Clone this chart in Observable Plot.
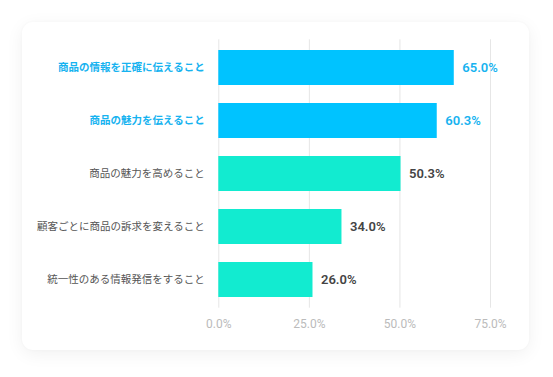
<!DOCTYPE html>
<html>
<head>
<meta charset="utf-8">
<script src="https://cdn.jsdelivr.net/npm/d3@7"></script>
<script src="https://cdn.jsdelivr.net/npm/@observablehq/plot@0.6"></script>
<style>
  html, body { margin: 0; padding: 0; background: #ffffff; }
  body { width: 553px; height: 377px; position: relative; overflow: hidden; }
  #card {
    position: absolute; left: 22px; top: 22px; width: 507px; height: 328px;
    background: #ffffff; border-radius: 11px;
    box-shadow: 0 4px 18px rgba(0,0,0,0.06), 0 0 3px rgba(0,0,0,0.03);
  }
  #chart { position: absolute; left: 0; top: 0; }
</style>
</head>
<body>
<div id="card"></div>
<div id="chart"></div>
<script>
const categories = [
  "商品の情報を正確に伝えること",
  "商品の魅力を伝えること",
  "商品の魅力を高めること",
  "顧客ごとに商品の訴求を変えること",
  "統一性のある情報発信をすること"
];
const values = [65.0, 60.3, 50.3, 34.0, 26.0];
const highlighted = [true, true, false, false, false];
const xTicks = [0, 25, 50, 75];

const data = categories.map((c, i) => ({cat: c, value: values[i], hi: highlighted[i]}));
const hiData = data.filter(d => d.hi);
const loData = data.filter(d => !d.hi);

const BLUE_BAR = "#00c3ff";
const TEAL_BAR = "#12ebd0";
const BLUE_TEXT = "#17b3f0";
const GRAY_TEXT = "#555555";
const DARK_TEXT = "#444444";

const catFont = "'Noto Sans CJK JP', sans-serif";
const numFont = "Roboto, sans-serif";
const fmt = d => d.toFixed(1) + "%";

const chart = Plot.plot({
  width: 553,
  height: 377,
  marginLeft: 218.3,
  marginRight: 63,
  marginTop: 39.3,
  marginBottom: 69.3,
  style: {background: "transparent", fontFamily: "Roboto, 'Noto Sans CJK JP', sans-serif"},
  x: {domain: [0, 75], ticks: xTicks, tickFormat: fmt},
  y: {domain: categories, paddingInner: 0.335, paddingOuter: 0.1675, axis: null},
  marks: [
    Plot.gridX(xTicks, {stroke: "#e6e6e6", strokeOpacity: 1, strokeWidth: 1}),
    Plot.barX(hiData, {x: "value", y: "cat", fill: BLUE_BAR}),
    Plot.barX(loData, {x: "value", y: "cat", fill: TEAL_BAR}),
    Plot.axisX(xTicks, {
      tickSize: 0, tickPadding: 11, fontSize: 12, fill: "#bbbbbb",
      tickFormat: fmt, label: null, fontFamily: numFont
    }),
    Plot.text(hiData, {
      y: "cat", text: "cat", frameAnchor: "left", dx: -14, textAnchor: "end",
      fontSize: 10.5, fontFamily: catFont, fontWeight: "bold", fill: BLUE_TEXT
    }),
    Plot.text(loData, {
      y: "cat", text: "cat", frameAnchor: "left", dx: -14, textAnchor: "end",
      fontSize: 10.5, fontFamily: catFont, fontWeight: "normal", fill: GRAY_TEXT
    }),
    Plot.text(hiData, {
      x: "value", y: "cat", text: d => fmt(d.value),
      dx: 8, textAnchor: "start", fontSize: 13, fontWeight: 600,
      fontFamily: numFont, fill: BLUE_TEXT
    }),
    Plot.text(loData, {
      x: "value", y: "cat", text: d => fmt(d.value),
      dx: 8, textAnchor: "start", fontSize: 13, fontWeight: 600,
      fontFamily: numFont, fill: DARK_TEXT
    })
  ]
});
document.getElementById("chart").appendChild(chart);
</script>
</body>
</html>
